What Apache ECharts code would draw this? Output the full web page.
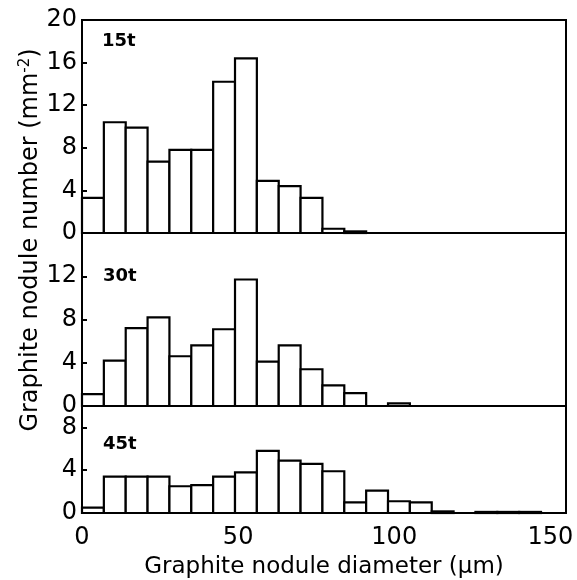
<!DOCTYPE html>
<html>
<head>
<meta charset="utf-8">
<script src="https://cdn.jsdelivr.net/npm/echarts@6/dist/echarts.min.js"></script>
<style>
html,body{margin:0;padding:0;background:#fff;}
#chart{width:577px;height:580px;}
</style>
</head>
<body>
<div id="chart"></div>
<script>
// ---- data ----
const binStarts = [0,7,14,21,28,35,42,49,56,63,70,77,84,91,98,105,112,119,126,133,140,147];
const binWidth = 7;
const values15t = [3.3,10.4,9.9,6.7,7.8,7.8,14.2,16.4,4.9,4.4,3.3,0.4,0.15,0,0,0,0,0,0,0,0,0];
const values30t = [1.1,4.2,7.2,8.2,4.6,5.6,7.1,11.7,4.1,5.6,3.4,1.9,1.2,0,0.25,0,0,0,0,0,0,0];
const values45t = [0.5,3.4,3.4,3.4,2.5,2.6,3.4,3.8,5.8,4.9,4.6,3.9,1.0,2.1,1.1,1.0,0.15,0,0.1,0.1,0.1,0];
const panelLabels = ['15t','30t','45t'];
const panelMax = [20,16,10];
const xTitle = 'Graphite nodule diameter (\u03bcm)';

// ---- chart ----
const FONT = 'DejaVu Sans';
const chart = echarts.init(document.getElementById('chart'), null, {renderer:'canvas'});

const grids = [
  {left:82, right:11, top:20, height:213},
  {left:82, right:11, top:233, height:173},
  {left:82, right:11, top:406, height:107}
].map(g => Object.assign(g, {show:true, borderColor:'#000', borderWidth:2, backgroundColor:'#fff', outerBoundsMode:'none', containLabel:false}));

const xAxes = [0,1,2].map(i => ({
  type:'value', gridIndex:i, min:0, max:155, interval:50,
  axisLine:{show:true, lineStyle:{color:'#000', width:2}},
  axisTick:{show:false},
  splitLine:{show:false},
  axisLabel:{show:i===2, showMaxLabel:false, color:'#000', fontFamily:FONT, fontSize:24, margin:13},
  name: i===2 ? xTitle : '',
  nameLocation:'middle', nameGap:43,
  nameTextStyle:{color:'#000', fontFamily:FONT, fontSize:23}
}));

const yAxes = [0,1,2].map(i => ({
  type:'value', gridIndex:i, min:0, max:panelMax[i], interval:4,
  axisLine:{show:true, lineStyle:{color:'#000', width:2}},
  axisTick:{show:true, inside:true, length:5, lineStyle:{color:'#000', width:2}},
  splitLine:{show:false},
  axisLabel:{color:'#000', fontFamily:FONT, fontSize:24, margin:5,
    showMaxLabel: i===0, showMinLabel:true},
}));

function makeSeries(vals, idx){
  return {
    type:'custom', xAxisIndex:idx, yAxisIndex:idx,
    data: binStarts.map((b,k)=>[b, vals[k]]).filter(d=>d[1]>0),
    renderItem:function(params, api){
      const x0 = api.value(0), v = api.value(1);
      const p1 = api.coord([x0, v]);
      const p2 = api.coord([x0 + binWidth, 0]);
      return {type:'rect', shape:{x:p1[0], y:p1[1], width:p2[0]-p1[0], height:p2[1]-p1[1]},
        style:{fill:'#fff', stroke:'#000', lineWidth:2.2}};
    }
  };
}

const labelStyle = {fontFamily:FONT, fontSize:18, fontWeight:'bold', fill:'#000'};
const option = {
  animation:false,
  backgroundColor:'#fff',
  grid:grids,
  xAxis:xAxes,
  yAxis:yAxes,
  series:[makeSeries(values15t,0), makeSeries(values30t,1), makeSeries(values45t,2)],
  graphic:[
    {type:'text', left:102, top:32, style:Object.assign({text:panelLabels[0]}, labelStyle)},
    {type:'text', left:103, top:267, style:Object.assign({text:panelLabels[1]}, labelStyle)},
    {type:'text', left:103, top:435, style:Object.assign({text:panelLabels[2]}, labelStyle)},
    {type:'text', x:31, y:240, rotation:Math.PI/2,
      style:{text:'{a|Graphite nodule number (mm}{s|-2}{a|)}', align:'center', verticalAlign:'middle',
        rich:{a:{fontFamily:FONT, fontSize:24, fill:'#000', color:'#000'}, s:{fontFamily:FONT, fontSize:15, fill:'#000', color:'#000', verticalAlign:'top', padding:[0,0,12,0]}}}}
  ]
};
chart.setOption(option);
</script>
</body>
</html>
